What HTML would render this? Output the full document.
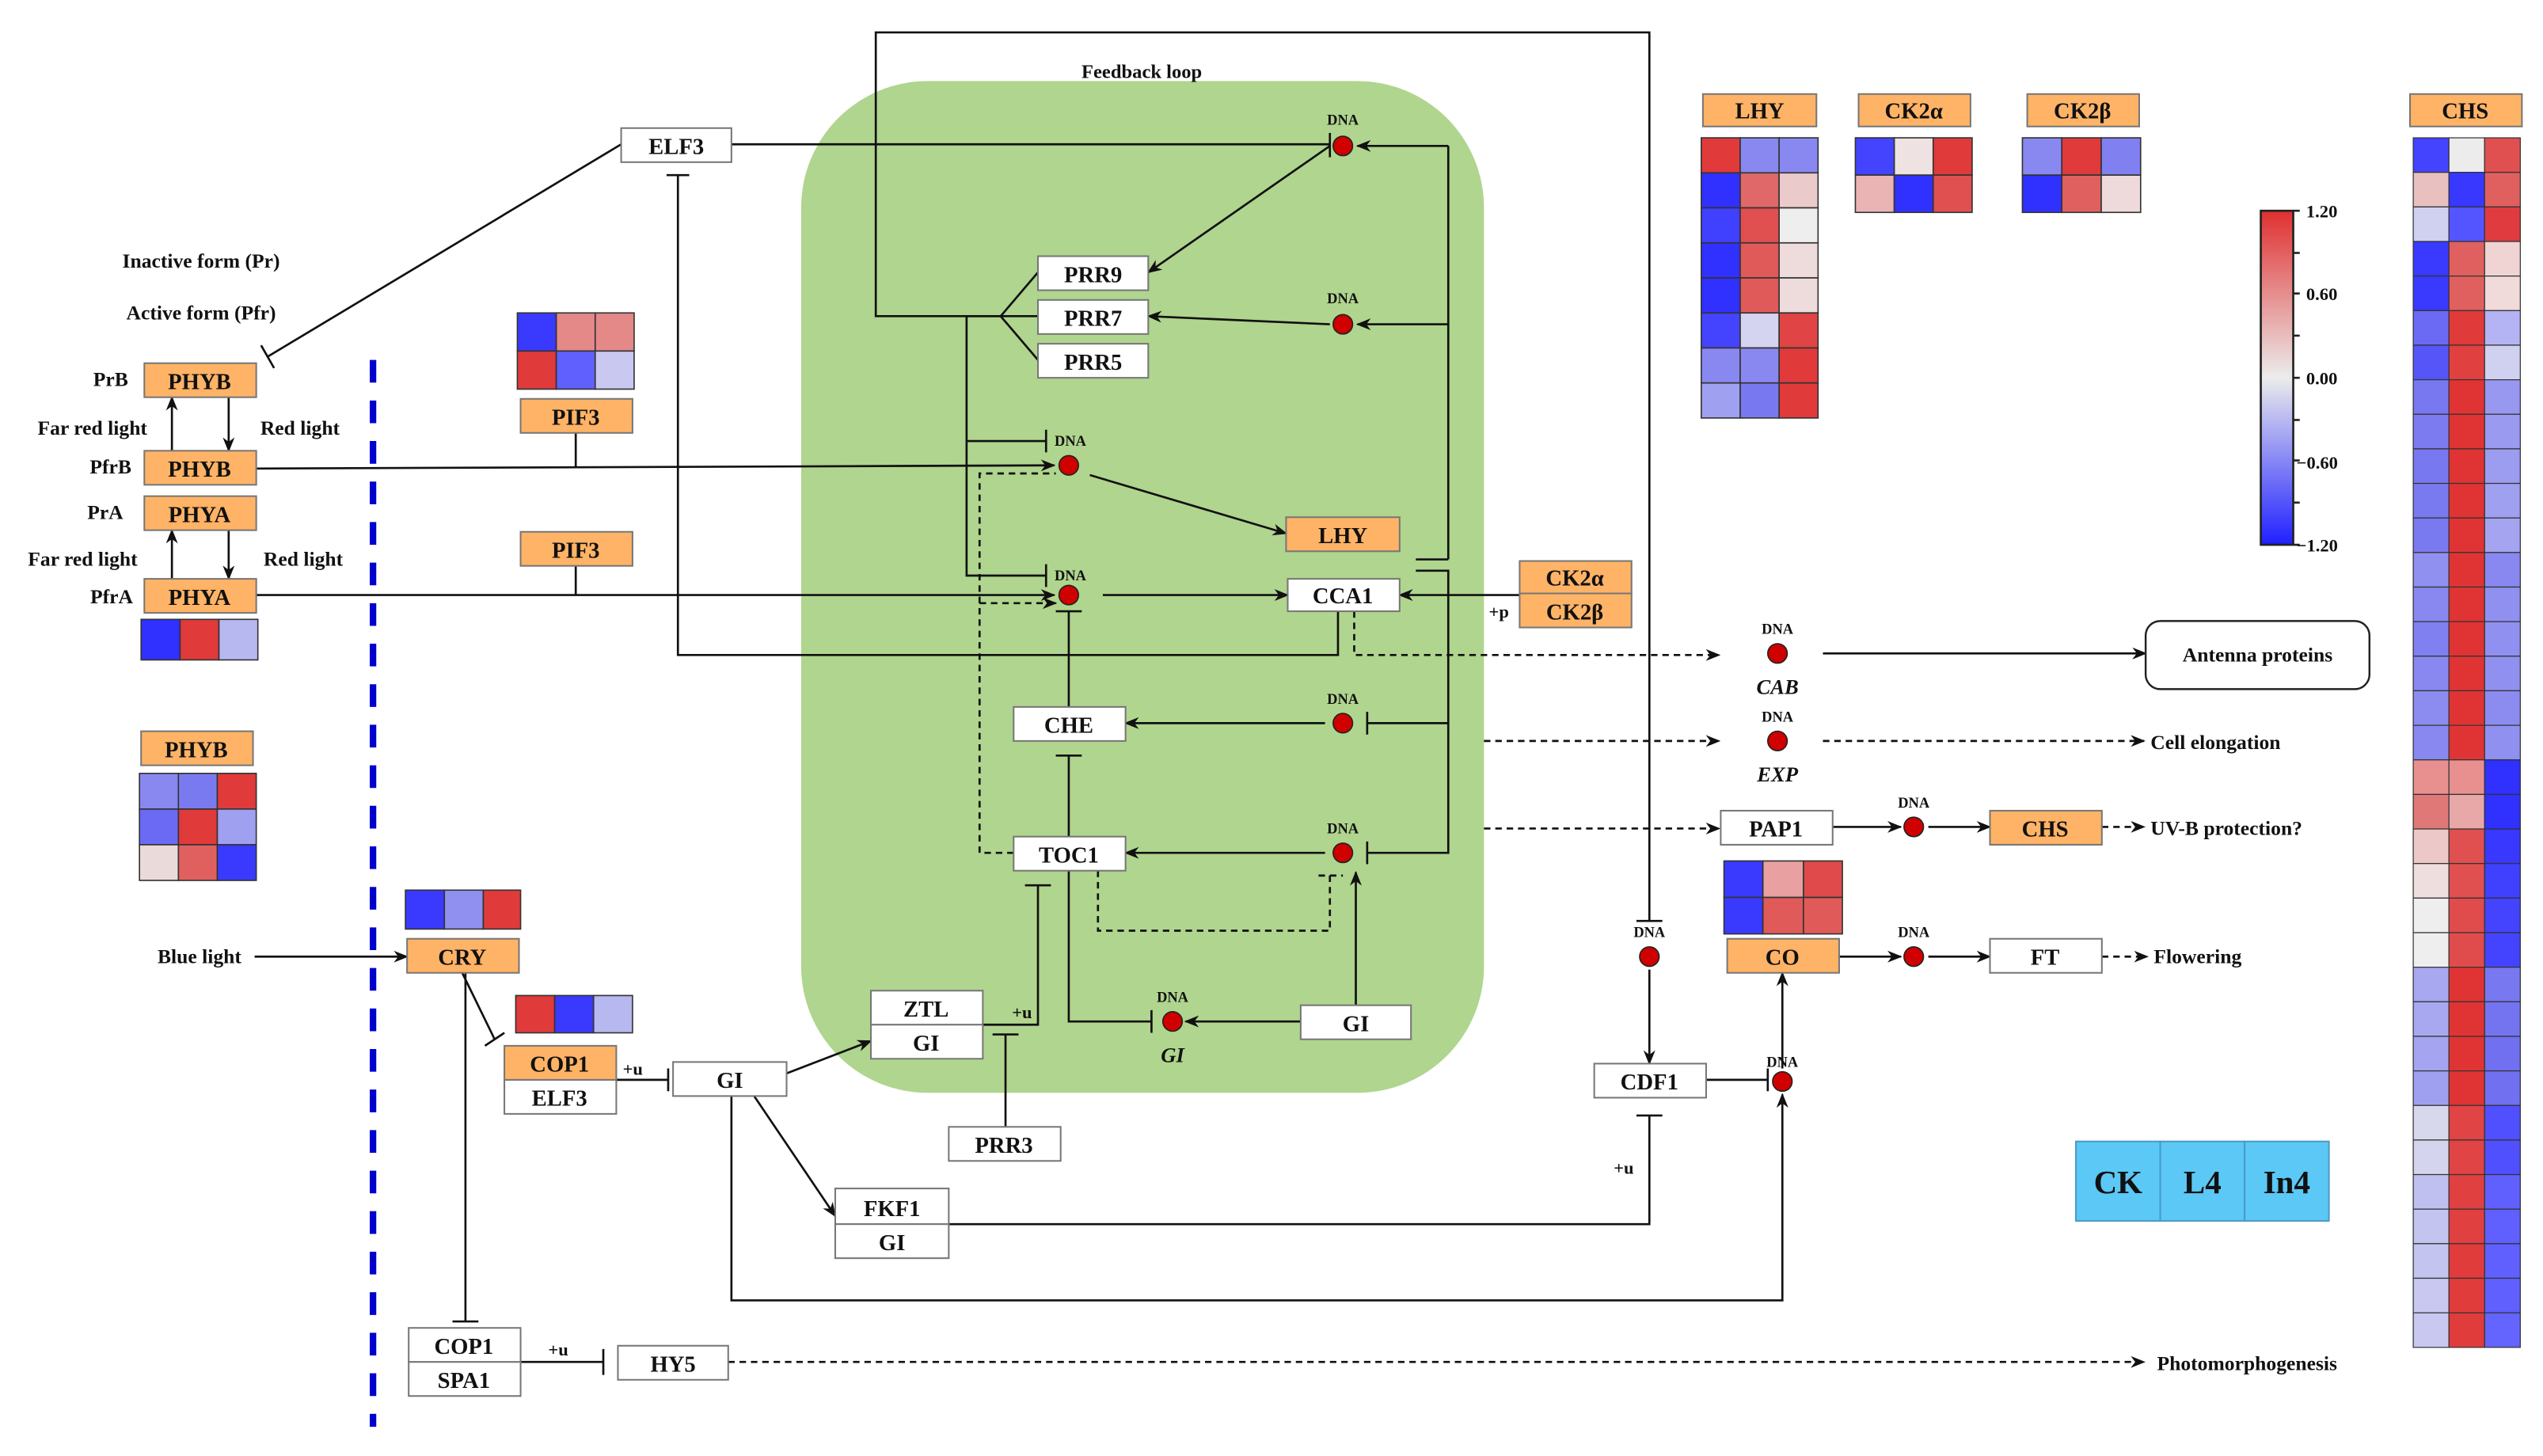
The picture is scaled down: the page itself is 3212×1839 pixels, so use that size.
<!DOCTYPE html>
<html><head><meta charset="utf-8"><style>
html,body{margin:0;padding:0;background:#fff}
svg{display:block}
text{font-family:"Liberation Serif",serif;font-weight:bold;fill:#111}
</style></head><body>
<svg width="3212" height="1839" viewBox="0 0 1568 898" preserveAspectRatio="none" xmlns="http://www.w3.org/2000/svg">
<defs>
<marker id="a" viewBox="0 0 10 10" refX="9" refY="5" markerWidth="7" markerHeight="7" orient="auto-start-reverse"><path d="M0,1 L10,5 L0,9 L3,5 z" fill="#111"/></marker>
<linearGradient id="cb" x1="0" y1="0" x2="0" y2="1"><stop offset="0" stop-color="#e03030"/><stop offset="0.5" stop-color="#ececec"/><stop offset="1" stop-color="#2020ff"/></linearGradient>
</defs>
<rect width="1568" height="898" fill="#fff"/>
<rect x="494" y="50" width="421" height="624" rx="78" fill="#b0d58e"/>
<text x="704" y="48" font-size="12" text-anchor="middle">Feedback loop</text>

<g fill="none" stroke="#111" stroke-width="1.3">
<!-- top loop -->
<path d="M617,195 L540,195 L540,20 L1017,20 L1017,568"/>
<path d="M1009,568 L1025,568"/>
<path d="M617,195 L640,168 M617,195 L640,195 M617,195 L640,222"/>
<!-- ELF3 -->
<path d="M451,89 L820,89 M820,82 L820,97"/>
<path d="M383,89 L165,220 M161,213 L169,227"/>
<path d="M825,377 L825,404 L418,404 L418,108 M411,108 L425,108"/>
<!-- right vertical -->
<path d="M893,345 L893,90" /><path d="M893,90 L837,90" marker-end="url(#a)"/>
<path d="M893,200 L837,200" marker-end="url(#a)"/>
<path d="M873,345 L893,345 M873,352 L893,352 L893,526 L843,526 M843,519 L843,533 M893,446 L843,446 M843,439 L843,453"/>
<path d="M820,90 L708,168" marker-end="url(#a)"/>
<path d="M820,200 L708,195" marker-end="url(#a)"/>
<!-- PRR vertical -->
<path d="M617,195 L596,195 L596,355 L645,355 M645,348 L645,362 M596,272 L645,272 M645,265 L645,279"/>
<path d="M158,289 L650,287" marker-end="url(#a)"/>
<path d="M158,367 L650,367" marker-end="url(#a)"/>
<path d="M355,267 L355,288 M355,349 L355,367"/>
<path d="M625,526 L604,526 L604,292 L650,292 M604,372 L650,372" stroke-dasharray="4,3"/>
<path d="M650,292 L651,292 M650,372 L651,372" marker-end="url(#a)"/>
<path d="M672,293 L793,329" marker-end="url(#a)"/>
<path d="M680,367 L794,367" marker-end="url(#a)"/>
<path d="M937,367 L863,367" marker-end="url(#a)"/>
<path d="M659,377 L659,437 M651,377 L667,377"/>
<path d="M659,466 L659,516 M651,466 L667,466"/>
<path d="M817,446 L694,446" marker-end="url(#a)"/>
<path d="M817,526 L694,526" marker-end="url(#a)"/>
<path d="M677,537 L677,574 L820,574 L820,540 M813,540 L828,540" stroke-dasharray="4,3"/>
<path d="M836,620 L836,538" marker-end="url(#a)"/>
<path d="M802,630 L731,630" marker-end="url(#a)"/>
<path d="M659,537 L659,630 L710,630 M710,623 L710,637"/>
<path d="M606,632 L640,632 L640,546 M632,546 L648,546"/>
<path d="M620,695 L620,638 M612,638 L628,638"/>
<path d="M485,662 L537,642" marker-end="url(#a)"/>
<path d="M465,676 L515,750" marker-end="url(#a)"/>
<path d="M585,755 L1017,755 L1017,688 M1009,688 L1025,688"/>
<path d="M1017,598 L1017,656" marker-end="url(#a)"/>
<path d="M1052,666 L1090,666 M1090,659 L1090,673"/>
<path d="M451,676 L451,802 L1099,802 L1099,675" marker-end="url(#a)"/>
<path d="M1099,659 L1099,600" marker-end="url(#a)"/>
<path d="M1134,590 L1172,590" marker-end="url(#a)"/>
<path d="M1189,590 L1227,590" marker-end="url(#a)"/>
<path d="M1296,590 L1324,590" stroke-dasharray="4,3" marker-end="url(#a)"/>
<path d="M380,666 L412,666 M412,659 L412,673"/>
<path d="M157,590 L251,590" marker-end="url(#a)"/>
<path d="M285,600 L305,641 M299,645 L311,637"/>
<path d="M287,600 L287,815 M279,815 L295,815"/>
<path d="M321,840 L372,840 M372,832 L372,848"/>
<path d="M449,840 L1322,840" stroke-dasharray="4,3" marker-end="url(#a)"/>
<path d="M106,278 L106,245" marker-end="url(#a)"/><path d="M141,245 L141,278" marker-end="url(#a)"/>
<path d="M106,357 L106,327" marker-end="url(#a)"/><path d="M141,327 L141,357" marker-end="url(#a)"/>
<!-- outputs -->
<path d="M835,377 L835,404 L1060,404" stroke-dasharray="4,3" marker-end="url(#a)"/>
<path d="M1124,403 L1323,403" marker-end="url(#a)"/>
<path d="M915,457 L1060,457" stroke-dasharray="4,3" marker-end="url(#a)"/>
<path d="M1124,457 L1322,457" stroke-dasharray="4,3" marker-end="url(#a)"/>
<path d="M915,511 L1060,511" stroke-dasharray="4,3" marker-end="url(#a)"/>
<path d="M1130,510 L1172,510" marker-end="url(#a)"/>
<path d="M1189,510 L1227,510" marker-end="url(#a)"/>
<path d="M1296,510 L1322,510" stroke-dasharray="4,3" marker-end="url(#a)"/>
</g>
<line x1="230" y1="222" x2="230" y2="880" stroke="#0000cc" stroke-width="4" stroke-dasharray="14,11"/>

<!-- DNA dots -->
<g fill="#d00000" stroke="#222" stroke-width="0.8">
<circle cx="828" cy="90" r="6"/><circle cx="828" cy="200" r="6"/><circle cx="659" cy="287" r="6"/><circle cx="659" cy="367" r="6"/>
<circle cx="828" cy="446" r="6"/><circle cx="828" cy="526" r="6"/><circle cx="723" cy="630" r="6"/><circle cx="1017" cy="590" r="6"/>
<circle cx="1099" cy="667" r="6"/><circle cx="1096" cy="403" r="6"/><circle cx="1096" cy="457" r="6"/><circle cx="1180" cy="510" r="6"/><circle cx="1180" cy="590" r="6"/>
</g>
<g font-size="9" text-anchor="middle">
<text x="828" y="77">DNA</text><text x="828" y="187">DNA</text><text x="660" y="275">DNA</text><text x="660" y="358">DNA</text>
<text x="828" y="434">DNA</text><text x="828" y="514">DNA</text><text x="723" y="618">DNA</text><text x="1017" y="578">DNA</text>
<text x="1099" y="658">DNA</text><text x="1096" y="391">DNA</text><text x="1096" y="445">DNA</text><text x="1180" y="498">DNA</text><text x="1180" y="578">DNA</text>
</g>
<g font-size="13" font-style="italic" text-anchor="middle"><text x="723" y="655">GI</text><text x="1096" y="428">CAB</text><text x="1096" y="482">EXP</text></g>

<!-- boxes -->
<g stroke="#777" stroke-width="1">
<g fill="#fff">
<rect x="383" y="79" width="68" height="21"/>
<rect x="640" y="158" width="68" height="21"/><rect x="640" y="185" width="68" height="21"/><rect x="640" y="212" width="68" height="21"/>
<rect x="794" y="357" width="69" height="20"/>
<rect x="625" y="436" width="69" height="21"/><rect x="625" y="516" width="69" height="21"/>
<rect x="802" y="620" width="68" height="21"/>
<rect x="537" y="611" width="69" height="21"/><rect x="537" y="632" width="69" height="21"/>
<rect x="585" y="695" width="69" height="21"/>
<rect x="415" y="655" width="70" height="21"/>
<rect x="515" y="733" width="70" height="22"/><rect x="515" y="755" width="70" height="21"/>
<rect x="983" y="656" width="69" height="21"/>
<rect x="1227" y="579" width="69" height="21"/><rect x="1061" y="500" width="69" height="21"/>
<rect x="311" y="666" width="69" height="21"/>
<rect x="252" y="819" width="69" height="21"/><rect x="252" y="840" width="69" height="21"/>
<rect x="381" y="830" width="68" height="21"/>
</g>
<g fill="#ffb366">
<rect x="793" y="319" width="70" height="21"/>
<rect x="937" y="346" width="69" height="20"/><rect x="937" y="366" width="69" height="21"/>
<rect x="1065" y="579" width="69" height="21"/><rect x="1227" y="500" width="69" height="21"/>
<rect x="311" y="645" width="69" height="21"/><rect x="251" y="579" width="69" height="21"/>
<rect x="89" y="224" width="69" height="21"/><rect x="89" y="278" width="69" height="21"/><rect x="89" y="306" width="69" height="21"/><rect x="89" y="357" width="69" height="21"/>
<rect x="87" y="451" width="69" height="21"/>
<rect x="321" y="246" width="69" height="21"/><rect x="321" y="328" width="69" height="21"/>
<rect x="1050" y="58" width="70" height="20"/><rect x="1146" y="58" width="69" height="20"/><rect x="1250" y="58" width="69" height="20"/><rect x="1486" y="58" width="69" height="20"/>
</g>
</g>
<rect x="1323" y="383" width="138" height="42" rx="9" fill="#fff" stroke="#222" stroke-width="1.2"/>

<g font-size="14" text-anchor="middle">
<text x="417" y="95">ELF3</text><text x="674" y="174">PRR9</text><text x="674" y="201">PRR7</text><text x="674" y="228">PRR5</text>
<text x="828" y="335">LHY</text><text x="828" y="372">CCA1</text><text x="971" y="361">CK2α</text><text x="971" y="382">CK2β</text>
<text x="659" y="452">CHE</text><text x="659" y="532">TOC1</text><text x="836" y="636">GI</text>
<text x="571" y="627">ZTL</text><text x="571" y="648">GI</text><text x="619" y="711">PRR3</text><text x="450" y="671">GI</text>
<text x="550" y="750">FKF1</text><text x="550" y="771">GI</text><text x="1017" y="672">CDF1</text>
<text x="1099" y="595">CO</text><text x="1261" y="595">FT</text><text x="1095" y="516">PAP1</text><text x="1261" y="516">CHS</text>
<text x="345" y="661">COP1</text><text x="345" y="682">ELF3</text><text x="285" y="595">CRY</text>
<text x="286" y="835">COP1</text><text x="286" y="856">SPA1</text><text x="415" y="846">HY5</text>
<text x="123" y="240">PHYB</text><text x="123" y="294">PHYB</text><text x="123" y="322">PHYA</text><text x="123" y="373">PHYA</text>
<text x="121" y="467">PHYB</text><text x="355" y="262">PIF3</text><text x="355" y="344">PIF3</text>
<text x="1085" y="73">LHY</text><text x="1180" y="73">CK2α</text><text x="1284" y="73">CK2β</text><text x="1520" y="73">CHS</text>
</g>
<g font-size="12.5">
<text x="1392" y="408" text-anchor="middle">Antenna proteins</text>
<text x="1326" y="462">Cell elongation</text><text x="1326" y="515">UV-B protection?</text>
<text x="1328" y="594">Flowering</text><text x="1330" y="845">Photomorphogenesis</text>
<text x="123" y="594" text-anchor="middle">Blue light</text>
<text x="124" y="165" text-anchor="middle">Inactive form (Pr)</text><text x="124" y="197" text-anchor="middle">Active form (Pfr)</text>
<text x="79" y="238" text-anchor="end">PrB</text><text x="57" y="268" text-anchor="middle">Far red light</text><text x="185" y="268" text-anchor="middle">Red light</text>
<text x="81" y="292" text-anchor="end">PfrB</text><text x="76" y="320" text-anchor="end">PrA</text>
<text x="51" y="349" text-anchor="middle">Far red light</text><text x="187" y="349" text-anchor="middle">Red light</text>
<text x="82" y="372" text-anchor="end">PfrA</text>
</g>
<g font-size="11"><text x="918" y="381">+p</text><text x="624" y="628">+u</text><text x="384" y="663">+u</text><text x="338" y="836">+u</text><text x="995" y="724">+u</text></g>

<!-- heatmaps -->
<g stroke="#333" stroke-width="0.8">
<!-- PIF3 -->
<rect x="319" y="193" width="24" height="23.5" fill="#3a3aff"/><rect x="343" y="193" width="24" height="23.5" fill="#e48888"/><rect x="367" y="193" width="24" height="23.5" fill="#e48888"/>
<rect x="319" y="216.5" width="24" height="23.5" fill="#e03a3a"/><rect x="343" y="216.5" width="24" height="23.5" fill="#6060ff"/><rect x="367" y="216.5" width="24" height="23.5" fill="#c8c8f0"/>
<!-- PHYA -->
<rect x="87" y="382" width="24" height="25" fill="#3030ff"/><rect x="111" y="382" width="24" height="25" fill="#e03a3a"/><rect x="135" y="382" width="24" height="25" fill="#b8b8f0"/>
<!-- PHYB -->
<rect x="86" y="477" width="24" height="22" fill="#8888f0"/><rect x="110" y="477" width="24" height="22" fill="#7a7af0"/><rect x="134" y="477" width="24" height="22" fill="#e03a3a"/>
<rect x="86" y="499" width="24" height="22" fill="#6a6af5"/><rect x="110" y="499" width="24" height="22" fill="#e03a3a"/><rect x="134" y="499" width="24" height="22" fill="#a0a0f0"/>
<rect x="86" y="521" width="24" height="22" fill="#eadada"/><rect x="110" y="521" width="24" height="22" fill="#e06060"/><rect x="134" y="521" width="24" height="22" fill="#3a3aff"/>
<!-- CRY -->
<rect x="250" y="549" width="24" height="24" fill="#3a3aff"/><rect x="274" y="549" width="24" height="24" fill="#9090f0"/><rect x="298" y="549" width="23" height="24" fill="#e03a3a"/>
<!-- COP1 -->
<rect x="318" y="614" width="24" height="23" fill="#e03a3a"/><rect x="342" y="614" width="24" height="23" fill="#3a3aff"/><rect x="366" y="614" width="24" height="23" fill="#b8b8f0"/>
<!-- CO -->
<rect x="1063" y="531" width="24" height="22.5" fill="#3a3aff"/><rect x="1087" y="531" width="25" height="22.5" fill="#e8a0a0"/><rect x="1112" y="531" width="24" height="22.5" fill="#e04a4a"/>
<rect x="1063" y="553.5" width="24" height="22.5" fill="#3a3aff"/><rect x="1087" y="553.5" width="25" height="22.5" fill="#e05a5a"/><rect x="1112" y="553.5" width="24" height="22.5" fill="#e05a5a"/>
<!-- CK2a -->
<rect x="1144" y="85" width="24" height="23" fill="#4444ff"/><rect x="1168" y="85" width="24" height="23" fill="#eee2e2"/><rect x="1192" y="85" width="24" height="23" fill="#e03a3a"/>
<rect x="1144" y="108" width="24" height="23" fill="#eab4b4"/><rect x="1168" y="108" width="24" height="23" fill="#3030ff"/><rect x="1192" y="108" width="24" height="23" fill="#e05050"/>
<!-- CK2b -->
<rect x="1247" y="85" width="24.3" height="23" fill="#8888f0"/><rect x="1271.3" y="85" width="24.3" height="23" fill="#e03a3a"/><rect x="1295.6" y="85" width="24.3" height="23" fill="#8080f0"/>
<rect x="1247" y="108" width="24.3" height="23" fill="#3030ff"/><rect x="1271.3" y="108" width="24.3" height="23" fill="#e06060"/><rect x="1295.6" y="108" width="24.3" height="23" fill="#eedada"/>
</g>
<g stroke="#333" stroke-width="0.8" id="lhy">
<rect x="1049" y="85" width="24" height="21.6" fill="#e03a3a"/><rect x="1073" y="85" width="24" height="21.6" fill="#8888f0"/><rect x="1097" y="85" width="24" height="21.6" fill="#8888f0"/>
<rect x="1049" y="106.6" width="24" height="21.6" fill="#3030ff"/><rect x="1073" y="106.6" width="24" height="21.6" fill="#e06868"/><rect x="1097" y="106.6" width="24" height="21.6" fill="#eacaca"/>
<rect x="1049" y="128.2" width="24" height="21.6" fill="#4040ff"/><rect x="1073" y="128.2" width="24" height="21.6" fill="#e05050"/><rect x="1097" y="128.2" width="24" height="21.6" fill="#eeeeee"/>
<rect x="1049" y="149.8" width="24" height="21.6" fill="#3030ff"/><rect x="1073" y="149.8" width="24" height="21.6" fill="#e05a5a"/><rect x="1097" y="149.8" width="24" height="21.6" fill="#eedcdc"/>
<rect x="1049" y="171.4" width="24" height="21.6" fill="#3030ff"/><rect x="1073" y="171.4" width="24" height="21.6" fill="#e05a5a"/><rect x="1097" y="171.4" width="24" height="21.6" fill="#eedcdc"/>
<rect x="1049" y="193" width="24" height="21.6" fill="#4444ff"/><rect x="1073" y="193" width="24" height="21.6" fill="#d4d4f0"/><rect x="1097" y="193" width="24" height="21.6" fill="#e04444"/>
<rect x="1049" y="214.6" width="24" height="21.6" fill="#8888f0"/><rect x="1073" y="214.6" width="24" height="21.6" fill="#8888f0"/><rect x="1097" y="214.6" width="24" height="21.6" fill="#e03a3a"/>
<rect x="1049" y="236.2" width="24" height="21.6" fill="#a0a0f0"/><rect x="1073" y="236.2" width="24" height="21.6" fill="#7878f0"/><rect x="1097" y="236.2" width="24" height="21.6" fill="#e03a3a"/>
</g>
<!-- CHS heatmap -->
<g stroke="#333" stroke-width="0.6">
<g id="chs"></g>
</g>
<script>
(function(){
var rows=[["#4444ff","#ececec","#e05050"],["#e8c0c0","#3838ff","#e06060"],["#d0d0f0","#5555ff","#e03c40"],["#3a3aff","#e06060","#f0d4d4"],["#3a3aff","#e06060","#f0dada"],["#6a6af5","#e03a3a","#b4b4f4"],["#5555f8","#e04040","#d0d0f0"],["#7878f0","#e03434","#9898f0"],["#7c7cf0","#e03434","#9a9af0"],["#7878f0","#e03434","#9c9cf0"],["#7a7af0","#e03434","#a0a0f0"],["#7a7af0","#e03434","#a4a4f0"],["#9090f0","#e03434","#8888f0"],["#8888f0","#e03434","#9090f0"],["#8080f0","#e03434","#9090f0"],["#8888f0","#e03434","#9090f0"],["#8c8cf0","#e03434","#8c8cf0"],["#8888f0","#e03434","#9090f0"],["#e89090","#e89090","#3030ff"],["#e07878","#e8a8a8","#3030ff"],["#ecc8c8","#e05050","#3838ff"],["#eedede","#e05050","#4040ff"],["#eeeeee","#e04c4c","#4444ff"],["#eeeeee","#e04c4c","#4444ff"],["#a8a8f0","#e03434","#7878f0"],["#a8a8f0","#e03434","#7474f0"],["#a4a4f0","#e03434","#7070f0"],["#a0a0f0","#e03434","#7070f0"],["#d8d8ec","#e04444","#5050ff"],["#d4d4ee","#e04444","#5050ff"],["#c0c0f0","#e04040","#6060ff"],["#c4c4f0","#e04040","#6060ff"],["#c4c4f0","#e03c3c","#6060ff"],["#c8c8f0","#e03c3c","#6060ff"],["#c8c8f0","#e03c3c","#6464ff"]];
var g=document.getElementById("chs"),ns="http://www.w3.org/2000/svg",y0=85,h=(831-85)/rows.length,xs=[1488,1510,1532],w=22;
rows.forEach(function(r,i){r.forEach(function(c,j){var e=document.createElementNS(ns,"rect");e.setAttribute("x",xs[j]);e.setAttribute("y",y0+i*h);e.setAttribute("width",w);e.setAttribute("height",h);e.setAttribute("fill",c);g.appendChild(e);});});
})();
</script>
<!-- colorbar -->
<rect x="1394" y="130" width="20" height="206" fill="url(#cb)" stroke="#222" stroke-width="1.3"/>
<g stroke="#222" stroke-width="1.3"><path d="M1414,130 h4 M1414,156 h4 M1414,181 h4 M1414,207 h4 M1414,233 h4 M1414,259 h4 M1414,284 h4 M1414,310 h4 M1414,336 h4"/></g>
<g font-size="11"><text x="1422" y="134">1.20</text><text x="1422" y="185">0.60</text><text x="1422" y="237">0.00</text><text x="1416" y="289">−0.60</text><text x="1416" y="340">−1.20</text></g>
<!-- legend -->
<g stroke="#4a9ac8" stroke-width="1"><rect x="1280" y="704" width="52" height="49" fill="#5bc8f5"/><rect x="1332" y="704" width="52" height="49" fill="#5bc8f5"/><rect x="1384" y="704" width="52" height="49" fill="#5bc8f5"/></g>
<g font-size="20" text-anchor="middle"><text x="1306" y="736">CK</text><text x="1358" y="736">L4</text><text x="1410" y="736">In4</text></g>
</svg>
</body></html>
